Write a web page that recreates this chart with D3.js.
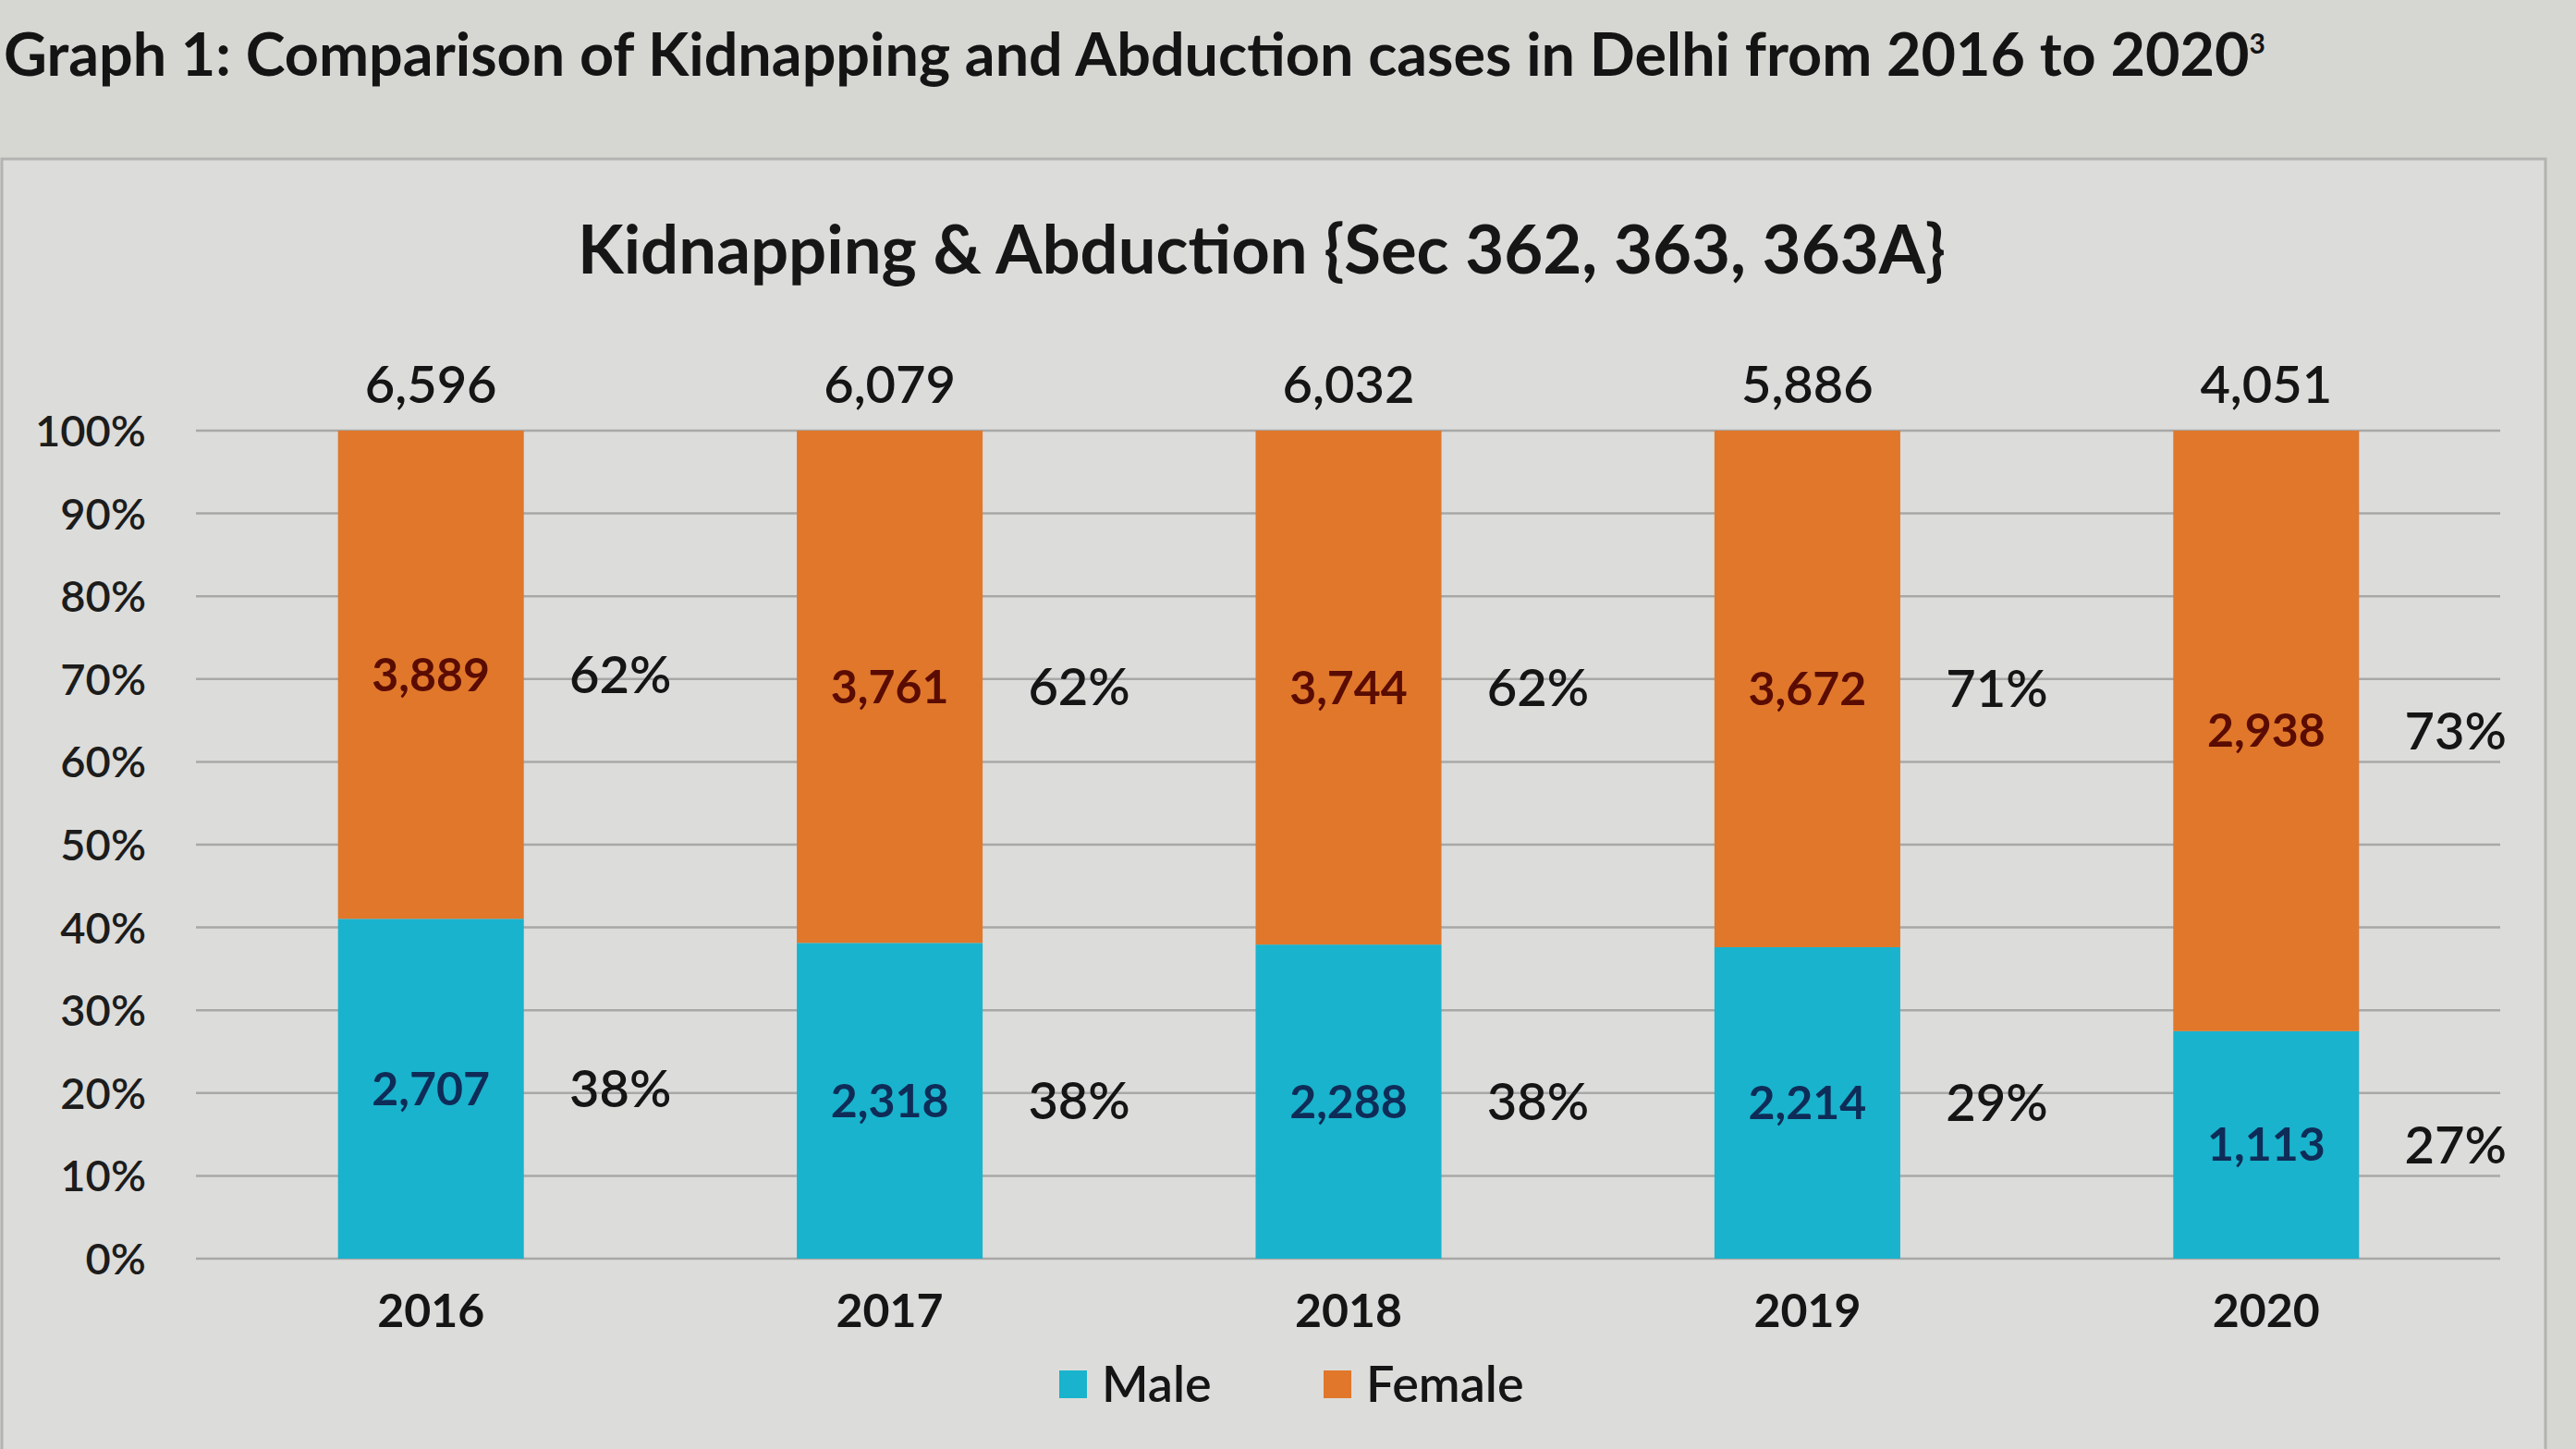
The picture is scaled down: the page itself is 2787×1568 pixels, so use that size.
<!DOCTYPE html>
<html><head><meta charset="utf-8">
<script src="https://cdn.jsdelivr.net/npm/d3@7"></script>
<style>html,body{margin:0;padding:0;background:#d6d6d3;overflow:hidden}</style>
</head><body>
<svg id="c" width="2787" height="1568"></svg>
<script>
const years = ["2016","2017","2018","2019","2020"];
const male = [2707, 2318, 2288, 2214, 1113];
const female = [3889, 3761, 3744, 3672, 2938];
const totals = [6596, 6079, 6032, 5886, 4051];
const malePct = ["38%","38%","38%","29%","27%"];
const femalePct = ["62%","62%","62%","71%","73%"];
const yTicks = [0,0.1,0.2,0.3,0.4,0.5,0.6,0.7,0.8,0.9,1];
const seriesNames = ["Male","Female"];
const colors = {Male:"#19b3cd", Female:"#e0772b"};

const FONT = "Lato, 'Open Sans', sans-serif";
const svg = d3.select("#c");

// chart box
svg.append("rect").attr("x",2).attr("y",172).attr("width",2752).attr("height",1450)
  .attr("fill","#dcdcda").attr("stroke","#b3b3b1").attr("stroke-width",3);

function fit(sel, w){
  const n = sel.node(); const L = n.getComputedTextLength();
  const fs = parseFloat(sel.attr("font-size"));
  sel.attr("font-size", fs*w/L);
}

// header
const hdr = svg.append("text").attr("x",4).attr("y",82).attr("font-family",FONT)
  .attr("font-weight",700).attr("font-size",58).attr("fill","#141414");
hdr.append("tspan").text("Graph 1: Comparison of Kidnapping and Abduction cases in Delhi from 2016 to 2020");
fit(hdr, 2430);
hdr.append("tspan").attr("dy",-24).attr("font-size",30).text("3");

// chart title
const ttl = svg.append("text").attr("x",1365).attr("y",296).attr("text-anchor","middle")
  .attr("font-family",FONT).attr("font-weight",700).attr("font-size",64).attr("fill","#161616")
  .text("Kidnapping & Abduction {Sec 362, 363, 363A}");
fit(ttl, 1480);

const x = d3.scaleBand().domain(years).range([218,2700]).paddingInner(0.595).paddingOuter(0.2975);
const y = d3.scaleLinear().domain([0,1]).range([1362,466]);

// gridlines
svg.append("g").selectAll("line").data(yTicks).join("line")
  .attr("x1",212).attr("x2",2705).attr("y1",d=>y(d)).attr("y2",d=>y(d))
  .attr("stroke","#a8a8a6").attr("stroke-width",2.5);

// y axis labels
const yAxis = d3.axisLeft(y).tickValues(yTicks).tickFormat(d3.format(".0%")).tickSize(0).tickPadding(0);
const ga = svg.append("g").attr("transform","translate(158,0)").call(yAxis);
ga.select(".domain").remove();
ga.selectAll("text").attr("font-family",FONT).attr("font-size",47).attr("font-weight",600)
  .attr("fill","#1c1c1c").attr("dy","0.35em");

// stacked data
const rows = years.map((yr,i)=>({year:yr, Male:male[i]/totals[i], Female:female[i]/totals[i], i}));
const stack = d3.stack().keys(seriesNames)(rows);

const gb = svg.append("g");
stack.forEach(s=>{
  gb.selectAll(null).data(s).join("rect")
    .attr("x",d=>x(d.data.year)).attr("width",x.bandwidth())
    .attr("y",d=>y(d[1])).attr("height",d=>y(d[0])-y(d[1]))
    .attr("fill",colors[s.key]);
});

// segment value labels
const fmt = d3.format(",");
const segVals = {Male:male, Female:female};
const segCol = {Male:"#0e2c57", Female:"#5a0c02"};
const pctVals = {Male:malePct, Female:femalePct};
stack.forEach(s=>{
  gb.selectAll(null).data(s).join("text")
    .attr("x",d=>x(d.data.year)+x.bandwidth()/2).attr("y",d=>(y(d[0])+y(d[1]))/2)
    .attr("dy","0.35em").attr("text-anchor","middle").attr("font-family",FONT)
    .attr("font-size",50).attr("font-weight",700).attr("fill",segCol[s.key])
    .text(d=>fmt(segVals[s.key][d.data.i]));
  gb.selectAll(null).data(s).join("text")
    .attr("x",d=>x(d.data.year)+x.bandwidth()/2+205).attr("y",d=>(y(d[0])+y(d[1]))/2)
    .attr("dy","0.35em").attr("text-anchor","middle").attr("font-family",FONT)
    .attr("font-size",56).attr("font-weight",600).attr("fill","#151515")
    .text(d=>pctVals[s.key][d.data.i]);
});

// totals
gb.selectAll(null).data(rows).join("text")
  .attr("x",d=>x(d.year)+x.bandwidth()/2).attr("y",y(1)-30)
  .attr("text-anchor","middle").attr("font-family",FONT).attr("font-size",56).attr("font-weight",600)
  .attr("fill","#151515").text(d=>fmt(totals[d.i]));

// x axis labels
const xAxis = d3.axisBottom(x).tickSize(0).tickPadding(0);
const gx = svg.append("g").attr("transform","translate(0,1418)").call(xAxis);
gx.select(".domain").remove();
gx.selectAll("text").attr("font-family",FONT).attr("font-size",50).attr("font-weight",700)
  .attr("fill","#151515").attr("dy","0.35em");

// legend
const lg = svg.append("g").attr("transform","translate(1146,1498)");
const litems = lg.selectAll("g").data(seriesNames).join("g")
  .attr("transform",(d,i)=>`translate(${i*286},0)`);
litems.append("rect").attr("x",0).attr("y",-15).attr("width",30).attr("height",30).attr("fill",d=>colors[d]);
litems.append("text").attr("x",46).attr("dy","0.35em").attr("font-family",FONT).attr("font-size",54)
  .attr("font-weight",600).attr("fill","#151515").text(d=>d);
</script>
</body></html>
